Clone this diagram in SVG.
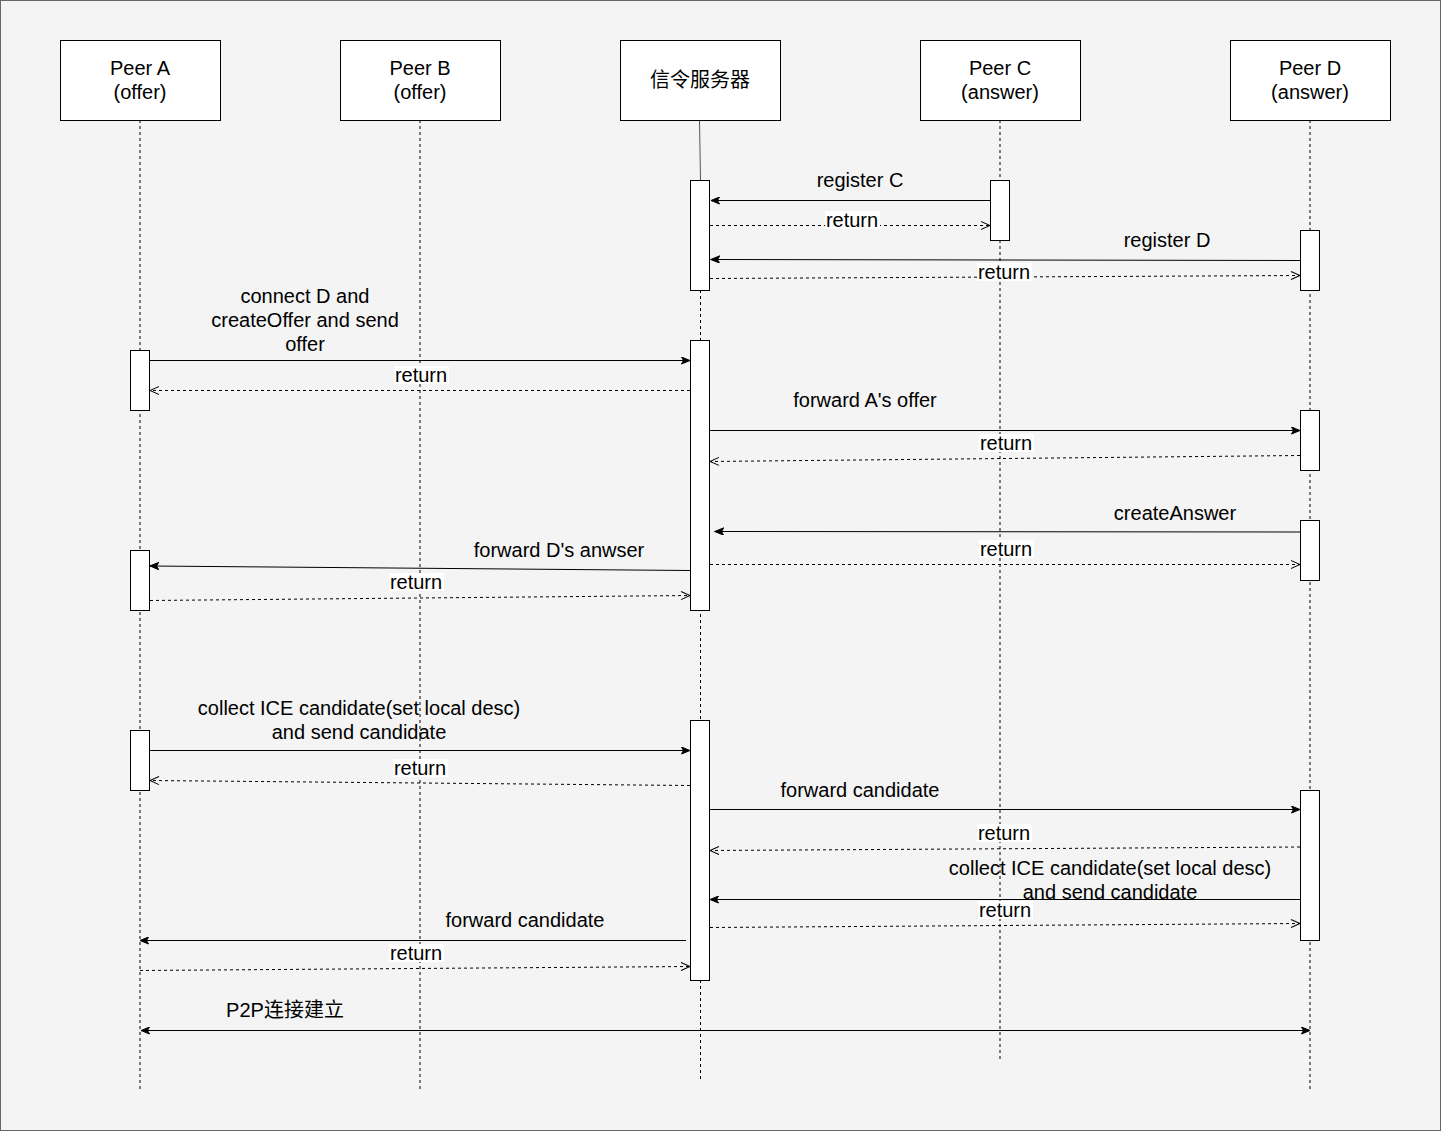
<svg xmlns="http://www.w3.org/2000/svg" width="1441" height="1131" viewBox="0 0 1441 1131">
<defs>
<style>
text{font-family:"Liberation Sans","Noto Sans CJK SC",Arial,sans-serif;font-size:20px;fill:#000;text-anchor:middle}
.hdr{fill:#fff;stroke:#000;stroke-width:1}
.act{fill:#fff;stroke:#000;stroke-width:1}
.life{stroke:#000;stroke-width:1;stroke-dasharray:3 3;fill:none}
.msg{stroke:#000;stroke-width:1;fill:none;marker-end:url(#filled)}
.ret{stroke:#000;stroke-width:1;fill:none;stroke-dasharray:3 3;marker-end:url(#open)}
.lbg{fill:#fff}
</style>
<marker id="filled" markerUnits="userSpaceOnUse" markerWidth="10" markerHeight="8" refX="9" refY="4" orient="auto-start-reverse" viewBox="0 0 10 8">
<path d="M0.5,0.5 L9,4 L0.5,7.5 L2.5,4 Z" fill="#000" stroke="#000" stroke-width="1"/>
</marker>
<marker id="open" markerUnits="userSpaceOnUse" markerWidth="12" markerHeight="10" refX="10" refY="5" orient="auto" viewBox="0 0 12 10">
<path d="M1,1 L10,5 L1,9" fill="none" stroke="#000" stroke-width="1"/>
</marker>
</defs>
<rect x="0.5" y="0.5" width="1440" height="1130" fill="#f4f4f4" stroke="#666" stroke-width="1"/>

<g id="peerA">
<line class="life" x1="140" y1="120" x2="140" y2="1090"/>
<rect class="hdr" x="60.5" y="40.5" width="160" height="80"/>
<text x="140" y="75">Peer A</text>
<text x="140" y="99">(offer)</text>
<rect class="act" x="130.5" y="350.5" width="19" height="60"/>
<rect class="act" x="130.5" y="550.5" width="19" height="60"/>
<rect class="act" x="130.5" y="730.5" width="19" height="60"/>
</g>

<g id="peerB">
<line class="life" x1="420" y1="120" x2="420" y2="1090"/>
<rect class="hdr" x="340.5" y="40.5" width="160" height="80"/>
<text x="420" y="75">Peer B</text>
<text x="420" y="99">(offer)</text>
</g>

<g id="server">
<line x1="699.5" y1="120" x2="700.5" y2="180" stroke="#555" stroke-width="1"/>
<line class="life" x1="700.5" y1="290" x2="700.5" y2="1080"/>
<rect class="hdr" x="620.5" y="40.5" width="160" height="80"/>
<text x="700" y="87">信令服务器</text>
<rect class="act" x="690.5" y="180.5" width="19" height="110"/>
<rect class="act" x="690.5" y="340.5" width="19" height="270"/>
<rect class="act" x="690.5" y="720.5" width="19" height="260"/>
</g>

<g id="peerC">
<line class="life" x1="1000" y1="120" x2="1000" y2="1060"/>
<rect class="hdr" x="920.5" y="40.5" width="160" height="80"/>
<text x="1000" y="75">Peer C</text>
<text x="1000" y="99">(answer)</text>
<rect class="act" x="990.5" y="180.5" width="19" height="60"/>
</g>

<g id="peerD">
<line class="life" x1="1310" y1="120" x2="1310" y2="1090"/>
<rect class="hdr" x="1230.5" y="40.5" width="160" height="80"/>
<text x="1310" y="75">Peer D</text>
<text x="1310" y="99">(answer)</text>
<rect class="act" x="1300.5" y="230.5" width="19" height="60"/>
<rect class="act" x="1300.5" y="410.5" width="19" height="60"/>
<rect class="act" x="1300.5" y="520.5" width="19" height="60"/>
<rect class="act" x="1300.5" y="790.5" width="19" height="150"/>
</g>

<g id="connectors">
<path class="msg" d="M990,200.5 L711,200.5"/>
<text x="860" y="187">register C</text>
<path class="ret" d="M710,225.5 L990,225.5"/>
<rect class="lbg" x="825" y="211" width="55" height="18"/>
<text x="852" y="227">return</text>

<path class="msg" d="M1300,260.5 L711,259.5"/>
<text x="1167" y="247">register D</text>
<path class="ret" d="M710,278.5 L1300,275.5"/>
<rect class="lbg" x="977" y="263" width="55" height="18"/>
<text x="1004" y="279">return</text>

<path class="msg" d="M150,360.5 L690,360.5"/>
<text x="305" y="303">connect D and</text>
<text x="305" y="327">createOffer and send</text>
<text x="305" y="351">offer</text>
<path class="ret" d="M690,390.5 L150,390.5"/>
<rect class="lbg" x="394" y="366" width="55" height="18"/>
<text x="421" y="382">return</text>

<path class="msg" d="M710,430.5 L1300,430.5"/>
<text x="865" y="407">forward A's offer</text>
<path class="ret" d="M1300,455.5 L710,461.5"/>
<rect class="lbg" x="979" y="434" width="55" height="18"/>
<text x="1006" y="450">return</text>

<path class="msg" d="M1300,532 L715,531.5"/>
<text x="1175" y="520">createAnswer</text>
<path class="ret" d="M710,564.5 L1300,564.5"/>
<rect class="lbg" x="979" y="540" width="55" height="18"/>
<text x="1006" y="556">return</text>

<path class="msg" d="M690,570.5 L150,566"/>
<text x="559" y="557">forward D's anwser</text>
<path class="ret" d="M150,600.5 L690,595.5"/>
<rect class="lbg" x="389" y="573" width="55" height="18"/>
<text x="416" y="589">return</text>

<path class="msg" d="M150,750.5 L690,750.5"/>
<text x="359" y="715">collect ICE candidate(set local desc)</text>
<text x="359" y="739">and send candidate</text>
<path class="ret" d="M690,785.5 L150,780.5"/>
<rect class="lbg" x="393" y="759" width="55" height="18"/>
<text x="420" y="775">return</text>

<path class="msg" d="M710,809.5 L1300,809.5"/>
<text x="860" y="797">forward candidate</text>
<path class="ret" d="M1300,847 L710,850.5"/>
<rect class="lbg" x="977" y="824" width="55" height="18"/>
<text x="1004" y="840">return</text>

<path class="msg" d="M1300,899.5 L710,899.5"/>
<text x="1110" y="875">collect ICE candidate(set local desc)</text>
<text x="1110" y="899">and send candidate</text>
<path class="ret" d="M710,927.5 L1300,923.5"/>
<rect class="lbg" x="978" y="901" width="55" height="18"/>
<text x="1005" y="917">return</text>

<path class="msg" d="M686,940.5 L140,940.5"/>
<text x="525" y="927">forward candidate</text>
<path class="ret" d="M140,970.5 L690,966.5"/>
<rect class="lbg" x="389" y="944" width="55" height="18"/>
<text x="416" y="960">return</text>

<path class="msg" d="M141,1030.5 L1310,1030.5" style="marker-start:url(#filled)"/>
<text x="285" y="1017">P2P连接建立</text>
</g>
</svg>
